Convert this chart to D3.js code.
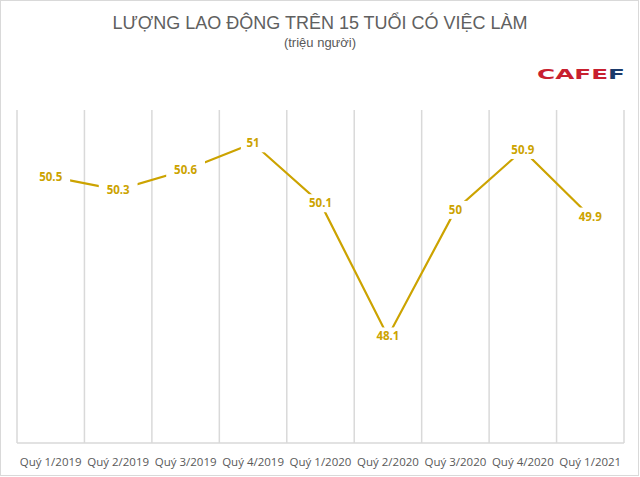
<!DOCTYPE html>
<html><head><meta charset="utf-8">
<script src="https://cdn.jsdelivr.net/npm/d3@7"></script>
<style>body{margin:0;background:#fff}svg{display:block}</style>
</head><body>
<svg id="c" width="640" height="477"></svg>
<script>
const categories = ["Quý 1/2019","Quý 2/2019","Quý 3/2019","Quý 4/2019","Quý 1/2020","Quý 2/2020","Quý 3/2020","Quý 4/2020","Quý 1/2021"];
const values = [50.5, 50.3, 50.6, 51, 50.1, 48.1, 50, 50.9, 49.9];
const labels = ["50.5","50.3","50.6","51","50.1","48.1","50","50.9","49.9"];
const yDomain = [46.5, 51.5];

const svg = d3.select("#c");
const gold = "#CCA300";
svg.append("rect").attr("x",0.5).attr("y",0.5).attr("width",638).attr("height",475)
  .attr("fill","#fff").attr("stroke","#d9d9d9");

const L=17,R=624,T=110,B=443;
const x = d3.scaleBand().domain(categories).range([L,R]);
const y = d3.scaleLinear().domain(yDomain).range([B,T]);

const edges = categories.map(c=>x(c)).concat([R]);
svg.append("g").selectAll("line").data(edges).join("line")
  .attr("x1",d=>d).attr("x2",d=>d).attr("y1",T).attr("y2",B)
  .attr("stroke","#d9d9d9").attr("stroke-width",1.5);
svg.append("line").attr("x1",L).attr("x2",R).attr("y1",B).attr("y2",B)
  .attr("stroke","#d9d9d9").attr("stroke-width",1.5);

const ax = svg.append("g").attr("transform",`translate(0,${B})`)
  .call(d3.axisBottom(x).tickSize(0).tickPadding(15));
ax.select(".domain").remove();
ax.selectAll("text").attr("font-family","'Open Sans', 'Liberation Sans', sans-serif")
  .attr("font-size",11.5).attr("fill","#595959");

const cx = d=>x(d.c)+x.bandwidth()/2;
const pts = categories.map((c,i)=>({c, v:values[i], l:labels[i]}));
svg.append("path").datum(pts)
  .attr("d", d3.line().x(cx).y(d=>y(d.v)))
  .attr("fill","none").attr("stroke",gold).attr("stroke-width",2.2);

const lg = svg.append("g").selectAll("g").data(pts).join("g")
  .attr("transform",d=>`translate(${cx(d)},${y(d.v)})`);
lg.append("rect").attr("x",d=>-(d.l.length*3.6+5)).attr("y",-9)
  .attr("width",d=>(d.l.length*3.6+5)*2).attr("height",18).attr("fill","#fff");
lg.append("text").text(d=>d.l).attr("text-anchor","middle").attr("dy","0.35em")
  .attr("font-family","'Open Sans', 'Liberation Sans', sans-serif").attr("font-weight","bold")
  .attr("font-size",11.5).attr("fill",gold);

svg.append("text").attr("x",320).attr("y",29).attr("text-anchor","middle")
  .attr("font-family","'Liberation Sans', Arial, sans-serif").attr("font-size",18)
  .attr("fill","#606060").text("LƯỢNG LAO ĐỘNG TRÊN 15 TUỔI CÓ VIỆC LÀM");
svg.append("text").attr("x",320).attr("y",47).attr("text-anchor","middle")
  .attr("font-family","'Liberation Sans', Arial, sans-serif").attr("font-size",13)
  .attr("fill","#595959").text("(triệu người)");

const logo = svg.append("text").attr("x",537).attr("y",79)
  .attr("font-family","'DejaVu Sans', sans-serif").attr("font-weight","bold")
  .attr("font-size",14).attr("textLength",88).attr("lengthAdjust","spacingAndGlyphs");
logo.append("tspan").attr("fill","#c8202f").text("CAFE");
logo.append("tspan").attr("fill","#1b3a6b").text("F");
</script>
</body></html>
